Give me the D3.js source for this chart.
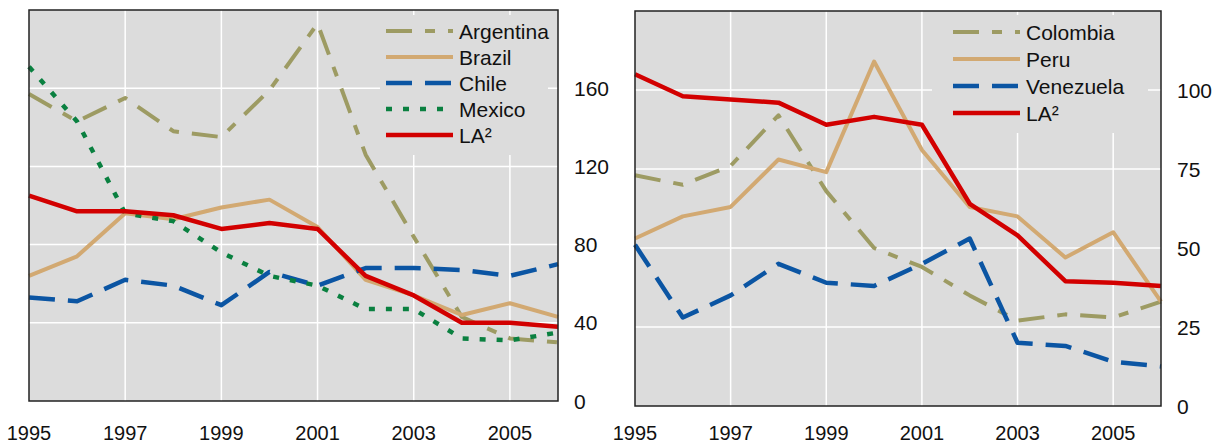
<!DOCTYPE html>
<html>
<head>
<meta charset="utf-8">
<script src="https://cdn.jsdelivr.net/npm/d3@7"></script>
<style>
  body { margin: 0; background: #fff; }
  svg text { font-family: "Liberation Sans", Arial, sans-serif; fill: #111; }
</style>
</head>
<body>
<div id="chart"></div>
<script>
// years shared by both panels
const years = [1995, 1996, 1997, 1998, 1999, 2000, 2001, 2002, 2003, 2004, 2005, 2006];
const xTickYears = [1995, 1997, 1999, 2001, 2003, 2005];

// left panel
const argentina = [157, 143, 155, 138, 135, 159, 193, 126, 84, 43, 32, 30];
const brazil    = [64, 74, 96, 93, 99, 103, 89, 62, 54, 44, 50, 43];
const chile     = [53, 51, 62, 59, 49, 66, 59, 68, 68, 67, 64, 70];
const mexico    = [171, 143, 96, 92, 76, 64, 59, 47, 47, 32, 31, 35];
const laLeft    = [105, 97, 97, 95, 88, 91, 88, 64, 54, 40, 40, 38];
const leftTicks = [0, 40, 80, 120, 160];

// right panel
const colombia  = [73, 70, 76, 92, 68, 50, 44, 35, 27, 29, 28, 33];
const peru      = [53, 60, 63, 78, 74, 109, 81, 63, 60, 47, 55, 33];
const venezuela = [51, 28, 35, 45, 39, 38, 45, 53, 20, 19, 14, 12.5];
const laRight   = [105, 98, 97, 96, 89, 91.5, 89, 64, 54, 39.5, 39, 38];
const rightTicks = [0, 25, 50, 75, 100];

const styles = {
    olive: { color: "#9d9b63", width: 4, dash: "26,13,10,13" },
    tan:   { color: "#d2a972", width: 4, dash: null },
    blue:  { color: "#0b55a3", width: 4.5, dash: "26,13" },
    green: { color: "#0a8040", width: 4.5, dash: "6,11" },
    red:   { color: "#d20000", width: 4.5, dash: null }
};

const svg = d3.select("#chart").append("svg")
    .attr("width", 1218)
    .attr("height", 445);

function drawPanel(p) {
    let g = svg.append("g");

    let x = d3.scaleLinear().domain([1995, 2006]).range([p.left, p.right]);
    let y = d3.scaleLinear().domain([0, p.yMax]).range([p.bottom, p.top]);

    // background
    g.append("rect")
        .attr("x", p.left).attr("y", p.top)
        .attr("width", p.right - p.left).attr("height", p.bottom - p.top)
        .attr("fill", "#dcdcdc");

    // grid
    g.selectAll(".hgrid")
        .data(p.ticks.filter(d => d > 0))
        .enter().append("line")
        .attr("x1", p.left).attr("x2", p.right)
        .attr("y1", d => y(d)).attr("y2", d => y(d))
        .attr("stroke", "#fff").attr("stroke-width", 1.5);

    g.selectAll(".vgrid")
        .data(xTickYears.filter(d => d > 1995))
        .enter().append("line")
        .attr("x1", d => x(d)).attr("x2", d => x(d))
        .attr("y1", p.top).attr("y2", p.bottom)
        .attr("stroke", "#fff").attr("stroke-width", 1.5);

    // legend box hides the grid under it
    g.append("rect")
        .attr("x", p.legendBox[0]).attr("y", p.legendBox[1])
        .attr("width", p.legendBox[2]).attr("height", p.legendBox[3])
        .attr("fill", "#dcdcdc");

    let line = d3.line()
        .x((d, i) => x(years[i]))
        .y(d => y(d));

    p.series.forEach(s => {
        g.append("path")
            .datum(s.values)
            .attr("d", line)
            .attr("fill", "none")
            .attr("stroke", s.style.color)
            .attr("stroke-width", s.style.width)
            .attr("stroke-dasharray", s.style.dash)
            .attr("stroke-linejoin", "round");
    });

    // frame
    g.append("rect")
        .attr("x", p.left).attr("y", p.top)
        .attr("width", p.right - p.left).attr("height", p.bottom - p.top)
        .attr("fill", "none")
        .attr("stroke", "#222").attr("stroke-width", 1.5);

    // y labels on the right
    g.selectAll(".ylab")
        .data(p.ticks)
        .enter().append("text")
        .attr("x", p.right + 16)
        .attr("y", d => y(d))
        .attr("dy", "0.36em")
        .style("font-size", "21px")
        .text(d => d);

    // x labels
    g.selectAll(".xlab")
        .data(xTickYears)
        .enter().append("text")
        .attr("x", d => x(d))
        .attr("y", p.xLabelY)
        .attr("text-anchor", "middle")
        .style("font-size", "20px")
        .text(d => d);

    // legend
    let leg = g.selectAll(".leg")
        .data(p.series)
        .enter().append("g")
        .attr("transform", (d, i) => `translate(${p.legendX}, ${p.legendY + i * p.legendStep})`);

    leg.append("line")
        .attr("x1", 0).attr("x2", 67)
        .attr("stroke", d => d.style.color)
        .attr("stroke-width", d => d.style.width)
        .attr("stroke-dasharray", d => d.style.dash);

    leg.append("text")
        .attr("x", 73)
        .attr("dy", "0.36em")
        .style("font-size", "21px")
        .text(d => d.name);
}

drawPanel({
    left: 29, right: 558, top: 10, bottom: 401, yMax: 200,
    ticks: leftTicks, xLabelY: 440,
    legendBox: [380, 15, 168, 140],
    legendX: 386, legendY: 31, legendStep: 26,
    series: [
        { name: "Argentina", values: argentina, style: styles.olive },
        { name: "Brazil", values: brazil, style: styles.tan },
        { name: "Chile", values: chile, style: styles.blue },
        { name: "Mexico", values: mexico, style: styles.green },
        { name: "LA²", values: laLeft, style: styles.red }
    ]
});

drawPanel({
    left: 635, right: 1161, top: 11, bottom: 406, yMax: 125,
    ticks: rightTicks, xLabelY: 440,
    legendBox: [932, 15, 216, 118],
    legendX: 953, legendY: 32, legendStep: 27,
    series: [
        { name: "Colombia", values: colombia, style: styles.olive },
        { name: "Peru", values: peru, style: styles.tan },
        { name: "Venezuela", values: venezuela, style: styles.blue },
        { name: "LA²", values: laRight, style: styles.red }
    ]
});
</script>
</body>
</html>
